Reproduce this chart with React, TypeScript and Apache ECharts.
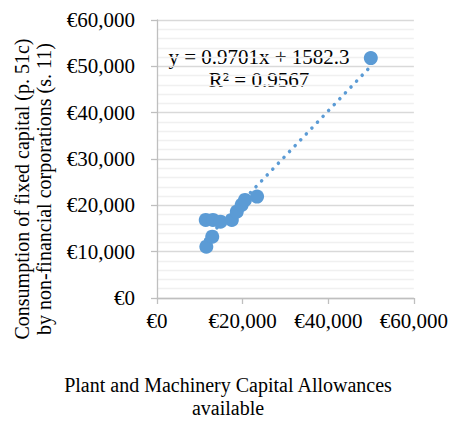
import React, { useEffect, useRef } from "react";
import * as echarts from "echarts";

const xValues = [11520, 12900, 11380, 13060, 14820, 17480, 18630, 19770, 20550, 23370, 49940];
const yValues = [11080, 13240, 16850, 16850, 16480, 16850, 18640, 20090, 21170, 21880, 51780];
const xTicks = [0, 20000, 40000, 60000];
const yTicks = [0, 10000, 20000, 30000, 40000, 50000, 60000];
const trendSlope = 0.9701;
const trendIntercept = 1582.3;
const equationLines = ["y = 0.9701x + 1582.3", "R\u00B2 = 0.9567"];
const yTitleLines = ["Consumption of fixed capital (p. 51c)", "by non-financial corporations (s. 11)"];
const xTitleLines = ["Plant and Machinery Capital Allowances", "available"];

const FONT = "Liberation Serif";
const euro = (v: number) => "{s|\u20AC" + Math.round(v).toLocaleString("en-US") + "}";

export default function App() {
  const ref = useRef<HTMLDivElement>(null);
  useEffect(() => {
    document.body.style.margin = "0";
    if (!ref.current) return;
    const chart = echarts.init(ref.current, undefined, { renderer: "svg" });
    const xMin = Math.min(...xValues);
    const xMax = Math.max(...xValues);
    const trend = [
      [xMin, trendSlope * xMin + trendIntercept],
      [xMax, trendSlope * xMax + trendIntercept],
    ];
    const labelStyle = {
      formatter: euro,
      fontFamily: FONT,
      fontSize: 21,
      color: "#000",
      rich: { s: { fontFamily: FONT, fontSize: 21, color: "#000" } },
    };
    chart.setOption({
      animation: false,
      textStyle: { fontFamily: FONT },
      grid: { left: 157, right: 32, top: 20, bottom: 124, containLabel: false },
      xAxis: {
        type: "value",
        min: xTicks[0],
        max: xTicks[xTicks.length - 1],
        interval: 20000,
        axisLine: { show: true, lineStyle: { color: "#bfbfbf", width: 1.3 } },
        axisTick: { show: true, length: 6, lineStyle: { color: "#bfbfbf", width: 1.3 } },
        axisLabel: { ...labelStyle, margin: 12 },
        splitLine: { show: false },
      },
      yAxis: {
        type: "value",
        min: yTicks[0],
        max: yTicks[yTicks.length - 1],
        interval: 10000,
        axisLine: { show: true, lineStyle: { color: "#bfbfbf", width: 1.3 } },
        axisTick: { show: true, length: 6, lineStyle: { color: "#bfbfbf", width: 1.3 } },
        axisLabel: { ...labelStyle, margin: 22 },
        splitLine: { show: true, lineStyle: { color: "#d9d9d9", width: 1.3 } },
        minorTick: { show: false, splitNumber: 5 },
        minorSplitLine: { show: true, lineStyle: { color: "#f0f0f0", width: 1.3 } },
      },
      series: [
        {
          type: "line",
          data: trend,
          symbol: "none",
          z: 1,
          lineStyle: { color: "#5b9bd5", width: 3.5, type: [0.1, 8], cap: "round" },
        },
        {
          type: "scatter",
          data: xValues.map((x, i) => [x, yValues[i]]),
          symbol: "circle",
          symbolSize: 14,
          z: 2,
          itemStyle: { color: "#5b9bd5", opacity: 1 },
        },
      ],
      graphic: [
        ...equationLines.map((t, i) => ({
          type: "text",
          x: 259,
          y: 57 + i * 23,
          style: {
            text: t,
            fontFamily: FONT,
            fontSize: 21,
            fill: "#000",
            textAlign: "center",
            textVerticalAlign: "middle",
          },
        })),
        ...yTitleLines.map((t, i) => ({
          type: "text",
          x: 22 + i * 22,
          y: 189,
          rotation: Math.PI / 2,
          style: {
            text: t,
            fontFamily: FONT,
            fontSize: 20,
            fill: "#000",
            textAlign: "center",
            textVerticalAlign: "middle",
          },
        })),
        ...xTitleLines.map((t, i) => ({
          type: "text",
          x: 228,
          y: 385 + i * 23,
          style: {
            text: t,
            fontFamily: FONT,
            fontSize: 20,
            fill: "#000",
            textAlign: "center",
            textVerticalAlign: "middle",
          },
        })),
      ],
    });
    return () => chart.dispose();
  }, []);
  return <div ref={ref} style={{ width: 451, height: 422 }} />;
}
